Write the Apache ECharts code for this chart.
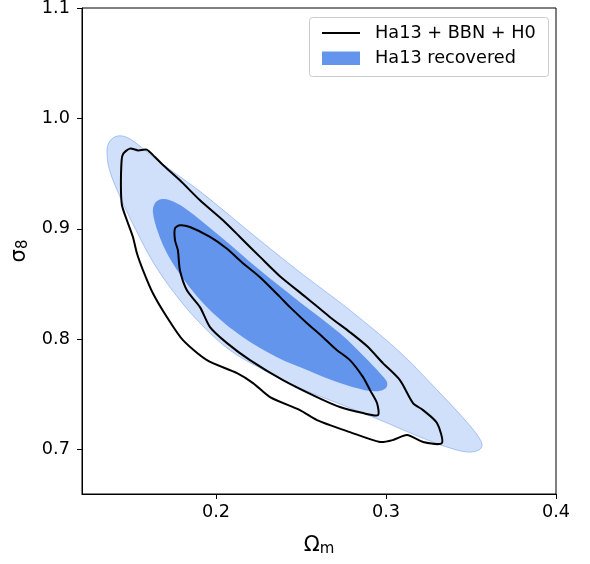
<!DOCTYPE html>
<html>
<head>
<meta charset="utf-8">
<script src="https://cdn.jsdelivr.net/npm/echarts@6/dist/echarts.min.js"></script>
<style>
html,body{margin:0;padding:0;background:#fff;}
#chart{width:590px;height:564px;}
</style>
</head>
<body>
<div id="chart"></div>
<script>
// ---- data (Omega_m, sigma_8) ----
const xTicks = [0.2, 0.3, 0.4];
const yTicks = [0.7, 0.8, 0.9, 1.0, 1.1];

// Ha13 recovered, outer (2 sigma) region outline
const recoveredOuter = [
  [0.1359,0.9710],[0.1371,0.9783],[0.1400,0.9828],[0.1435,0.9842],[0.1476,0.9828],
  [0.1524,0.9783],[0.1671,0.9602],[0.1906,0.9339],[0.2200,0.8968],[0.2494,0.8606],
  [0.2788,0.8262],[0.3082,0.7882],[0.3318,0.7511],[0.3465,0.7267],[0.3541,0.7122],
  [0.3565,0.7041],[0.3547,0.6995],[0.3482,0.6977],[0.3376,0.7014],[0.3200,0.7113],
  [0.2965,0.7267],[0.2729,0.7412],[0.2494,0.7557],[0.2259,0.7738],[0.2082,0.7900],
  [0.1935,0.8100],[0.1788,0.8353],[0.1641,0.8670],[0.1524,0.9005],[0.1424,0.9330],
  [0.1371,0.9548]
];
// Ha13 recovered, inner (1 sigma) region outline
const recoveredInner = [
  [0.1629,0.9149],[0.1641,0.9231],[0.1676,0.9267],[0.1729,0.9258],[0.1818,0.9186],
  [0.2024,0.8932],[0.2259,0.8624],[0.2494,0.8335],[0.2729,0.8054],[0.2876,0.7837],
  [0.2965,0.7692],[0.3006,0.7611],[0.3000,0.7557],[0.2953,0.7529],[0.2876,0.7538],
  [0.2729,0.7602],[0.2553,0.7710],[0.2359,0.7837],[0.2159,0.8018],[0.1965,0.8262],
  [0.1818,0.8525],[0.1718,0.8760],[0.1659,0.8968]
];
// Ha13 + BBN + H0, outer contour
const combinedOuter = [
  [0.1445,0.9620],[0.1455,0.9681],[0.1494,0.9726],[0.1543,0.9710],[0.1592,0.9717],
  [0.1641,0.9650],[0.1690,0.9575],[0.1788,0.9439],[0.1906,0.9258],[0.2041,0.9077],
  [0.2141,0.8926],[0.2259,0.8745],[0.2376,0.8570],[0.2529,0.8380],[0.2671,0.8199],
  [0.2788,0.8063],[0.2888,0.7937],[0.2982,0.7783],[0.3082,0.7629],[0.3159,0.7421],
  [0.3218,0.7357],[0.3300,0.7240],[0.3329,0.7059],[0.3218,0.7068],[0.3124,0.7131],
  [0.3041,0.7086],[0.2965,0.7068],[0.2788,0.7158],[0.2594,0.7267],[0.2494,0.7357],
  [0.2318,0.7475],[0.2218,0.7602],[0.2124,0.7692],[0.1947,0.7810],[0.1806,0.7991],
  [0.1712,0.8199],[0.1629,0.8416],[0.1571,0.8624],[0.1535,0.8778],[0.1512,0.8923],
  [0.1476,0.9077],[0.1447,0.9213],[0.1441,0.9376]
];
// Ha13 + BBN + H0, inner contour
const combinedInner = [
  [0.1759,0.9005],[0.1788,0.9032],[0.1847,0.9016],[0.1965,0.8926],[0.2063,0.8821],
  [0.2161,0.8685],[0.2259,0.8561],[0.2376,0.8383],[0.2435,0.8290],[0.2529,0.8154],
  [0.2629,0.8018],[0.2712,0.7900],[0.2788,0.7810],[0.2865,0.7656],[0.2906,0.7538],
  [0.2947,0.7421],[0.2953,0.7312],[0.2865,0.7330],[0.2729,0.7385],[0.2594,0.7475],
  [0.2394,0.7629],[0.2200,0.7810],[0.2065,0.7964],[0.1965,0.8109],[0.1906,0.8290],
  [0.1829,0.8443],[0.1788,0.8624],[0.1776,0.8805],[0.1759,0.8896]
];

const legendNames = ['Ha13 + BBN + H0', 'Ha13 recovered'];

// ---- chart ----
const FONT = 'DejaVu Sans';
const BLUE = '#6495ED';
const FS = 17.7;

function polySeries(name, pts, style, z, smooth) {
  return {
    type: 'custom',
    name: name,
    data: pts,
    encode: { x: 0, y: 1 },
    clip: true,
    silent: true,
    z: z,
    renderItem: function (params, api) {
      if (params.dataIndex !== 0) return null;
      const points = pts.map(function (p) { return api.coord(p); });
      return { type: 'polygon', shape: { points: points, smooth: smooth }, style: style };
    }
  };
}

const chart = echarts.init(document.getElementById('chart'), null, { renderer: 'canvas' });
const option = {
  animation: false,
  backgroundColor: '#fff',
  textStyle: { fontFamily: FONT },
  grid: { left: 82, right: 34, top: 8, bottom: 70, show: true, borderColor: '#000', borderWidth: 1, containLabel: false, outerBoundsMode: 'none' },
  xAxis: {
    type: 'value', min: 0.1212, max: 0.4,
    name: '{a|Ω}{b|m}', nameLocation: 'middle', nameGap: 40,
    nameTextStyle: { color: '#000', rich: { a: { fontSize: 21, fontFamily: FONT, color: '#000' }, b: { fontSize: 15, fontFamily: FONT, color: '#000', padding: [8, 0, 0, 0] } } },
    axisLine: { show: true, lineStyle: { color: '#000', width: 1 } },
    axisTick: { show: true, length: 5, lineStyle: { color: '#000', width: 1 }, customValues: xTicks },
    axisLabel: { color: '#000', fontSize: FS, fontFamily: FONT, margin: 9, customValues: xTicks, formatter: function (v) { return v.toFixed(1); } },
    splitLine: { show: false }
  },
  yAxis: {
    type: 'value', min: 0.6597, max: 1.1,
    name: '{a|σ}{b|8}', nameLocation: 'middle', nameGap: 47, nameRotate: 90,
    nameTextStyle: { color: '#000', rich: { a: { fontSize: 21, fontFamily: FONT, color: '#000' }, b: { fontSize: 15, fontFamily: FONT, color: '#000', padding: [8, 0, 0, 0] } } },
    axisLine: { show: true, lineStyle: { color: '#000', width: 1 } },
    axisTick: { show: true, length: 5, lineStyle: { color: '#000', width: 1 }, customValues: yTicks },
    axisLabel: { color: '#000', fontSize: FS, fontFamily: FONT, margin: 12, customValues: yTicks, formatter: function (v) { return v.toFixed(1); } },
    splitLine: { show: false }
  },
  series: [
    polySeries(legendNames[1], recoveredOuter, { fill: 'rgba(100,149,237,0.3)', stroke: 'rgba(100,149,237,0.5)', lineWidth: 1 }, 1, 0.35),
    polySeries(legendNames[1], recoveredInner, { fill: BLUE, stroke: null }, 2, 0.35),
    polySeries(legendNames[0], combinedOuter, { fill: null, stroke: '#000', lineWidth: 2, lineJoin: 'round' }, 3, 0.25),
    polySeries(legendNames[0], combinedInner, { fill: null, stroke: '#000', lineWidth: 2, lineJoin: 'round' }, 3, 0.25)
  ],
  graphic: [
    { type: 'rect', left: 309, top: 17, shape: { width: 239, height: 59, r: 3 }, style: { fill: 'rgba(255,255,255,0.8)', stroke: '#cccccc', lineWidth: 1 }, z: 10 },
    { type: 'line', shape: { x1: 322, y1: 33, x2: 360, y2: 33 }, style: { stroke: '#000', lineWidth: 2 }, z: 11 },
    { type: 'rect', shape: { x: 322, y: 51.5, width: 38, height: 13.5 }, style: { fill: BLUE }, z: 11 },
    { type: 'text', x: 375, y: 33, style: { text: legendNames[0], fontSize: FS, fontFamily: FONT, fill: '#000', verticalAlign: 'middle' }, z: 11 },
    { type: 'text', x: 375, y: 58.5, style: { text: legendNames[1], fontSize: FS, fontFamily: FONT, fill: '#000', verticalAlign: 'middle' }, z: 11 }
  ]
};
chart.setOption(option);
</script>
</body>
</html>
